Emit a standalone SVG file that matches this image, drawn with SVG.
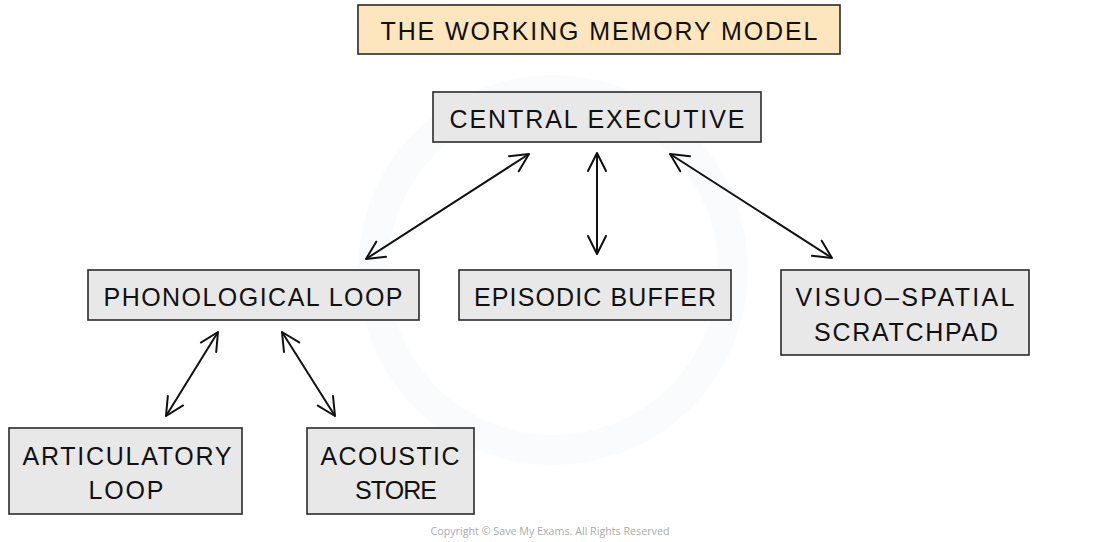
<svg xmlns="http://www.w3.org/2000/svg" width="1100" height="542" viewBox="0 0 1100 542">
<defs>
<style>
.box{fill:#e8e8e8;stroke:#2a2a2a;stroke-width:1.6}
.title{fill:#fde6bd;stroke:#2a2a2a;stroke-width:1.6}
.t{font-family:"Liberation Sans",Arial,sans-serif;font-size:25px;fill:#111;text-anchor:middle}
.c{stroke:#111;stroke-width:2;fill:none;marker-start:url(#ah);marker-end:url(#ah)}
</style>
<marker id="ah" viewBox="0 0 24 24" refX="22" refY="12" markerWidth="24" markerHeight="24" markerUnits="userSpaceOnUse" orient="auto-start-reverse">
<path d="M4,3 L22,12 L4,21" fill="none" stroke="#111" stroke-width="2" stroke-linecap="round" stroke-linejoin="round"/>
</marker>
</defs>
<rect width="1100" height="542" fill="#ffffff"/>
<g id="watermark" opacity="0.35">
<circle cx="553" cy="270" r="180" fill="none" stroke="#eef3f9" stroke-width="30"/>
</g>
<g id="title">
<rect class="title" x="358" y="5" width="482" height="49"/>
<text class="t" x="599" y="40" textLength="437" lengthAdjust="spacing">THE  WORKING  MEMORY  MODEL</text>
</g>
<g id="central-executive">
<rect class="box" x="433" y="92" width="328" height="50"/>
<text class="t" x="597" y="128" textLength="295" lengthAdjust="spacing">CENTRAL  EXECUTIVE</text>
</g>
<g id="phonological-loop">
<rect class="box" x="88" y="270" width="331" height="50"/>
<text class="t" x="253" y="306" textLength="299" lengthAdjust="spacing">PHONOLOGICAL  LOOP</text>
</g>
<g id="episodic-buffer">
<rect class="box" x="459" y="270" width="272" height="50"/>
<text class="t" x="595" y="306" textLength="242" lengthAdjust="spacing">EPISODIC  BUFFER</text>
</g>
<g id="visuo-spatial-scratchpad">
<rect class="box" x="781" y="270" width="248" height="85"/>
<text class="t" x="905" y="306" textLength="219" lengthAdjust="spacing">VISUO–SPATIAL</text>
<text class="t" x="906" y="341" textLength="184" lengthAdjust="spacing">SCRATCHPAD</text>
</g>
<g id="articulatory-loop">
<rect class="box" x="9" y="428" width="233" height="86"/>
<text class="t" x="127" y="465" textLength="209" lengthAdjust="spacing">ARTICULATORY</text>
<text class="t" x="126" y="499" textLength="75" lengthAdjust="spacing">LOOP</text>
</g>
<g id="acoustic-store">
<rect class="box" x="307" y="428" width="167" height="86"/>
<text class="t" x="390" y="465" textLength="139" lengthAdjust="spacing">ACOUSTIC</text>
<text class="t" x="396" y="499" textLength="82" lengthAdjust="spacing">STORE</text>
</g>
<g id="connectors">
<line class="c" x1="529" y1="154" x2="366" y2="259"/>
<line class="c" x1="597" y1="153" x2="597" y2="254"/>
<line class="c" x1="670" y1="154" x2="832" y2="258"/>
<line class="c" x1="218" y1="332" x2="166" y2="416"/>
<line class="c" x1="282" y1="332" x2="335" y2="416"/>
</g>
<text x="550" y="535" font-family="'Open Sans','Liberation Sans',sans-serif" font-size="10" fill="#aaaaaa" text-anchor="middle" textLength="239" lengthAdjust="spacingAndGlyphs">Copyright © Save My Exams. All Rights Reserved</text>
</svg>
